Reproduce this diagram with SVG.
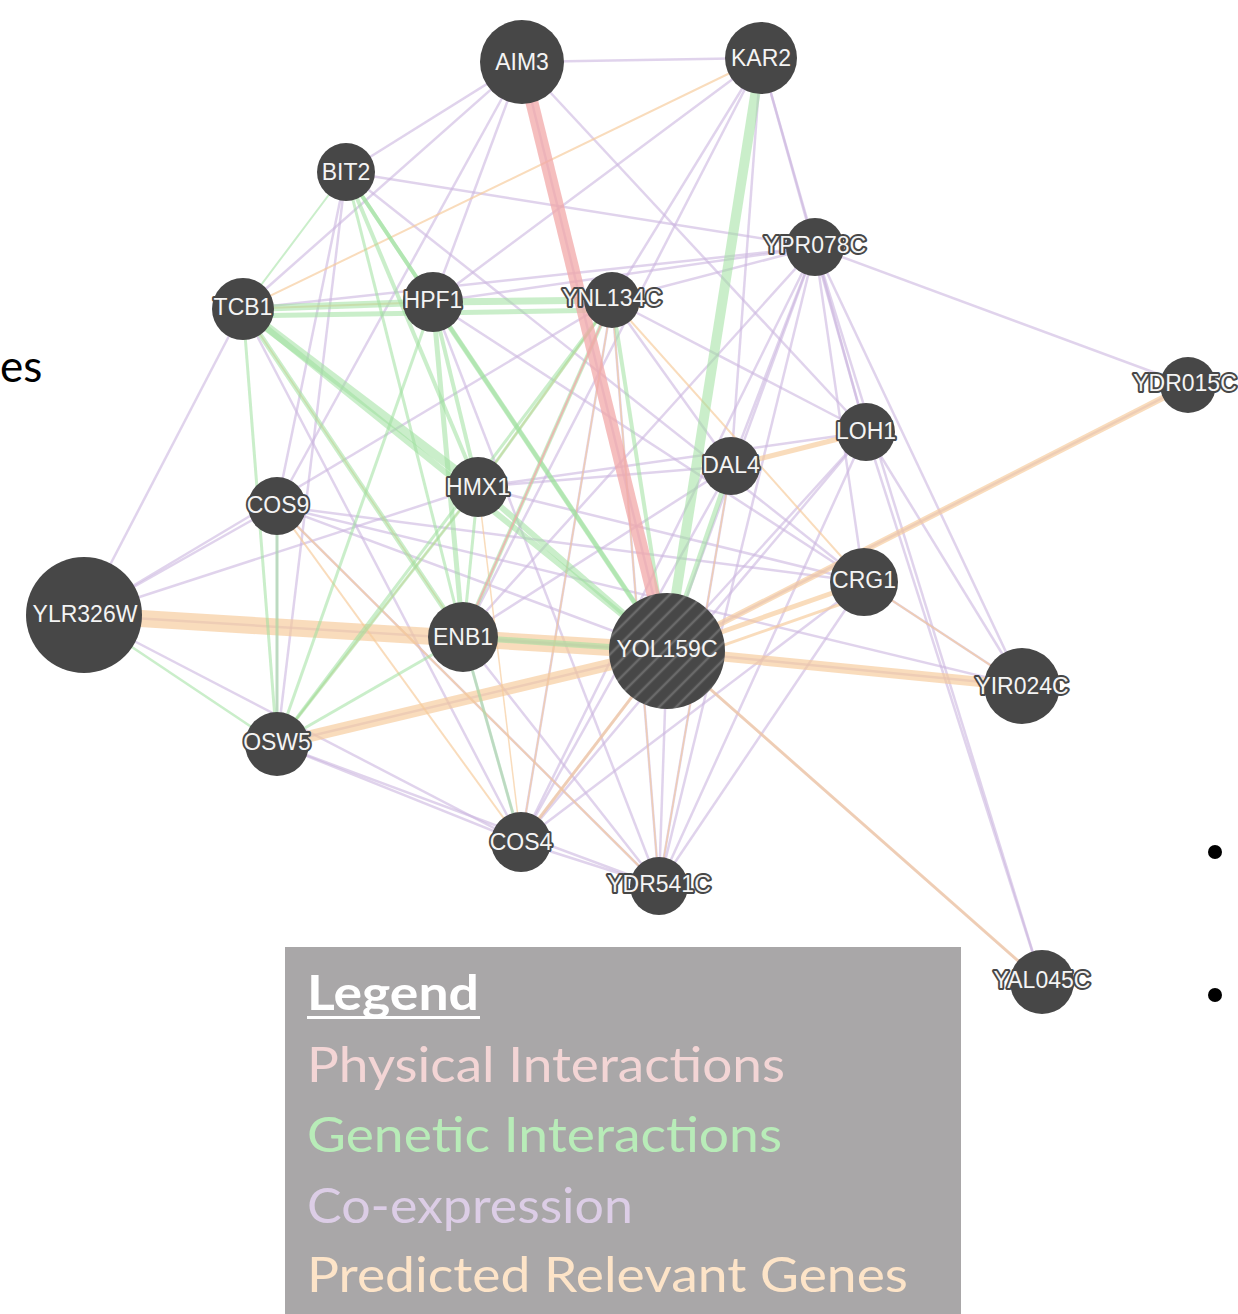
<svg xmlns="http://www.w3.org/2000/svg" width="1238" height="1314" viewBox="0 0 1238 1314">
<style>
.p{stroke:#f2a8a8;stroke-opacity:.75;stroke-linecap:butt}
.g{stroke:#9ee09e;stroke-opacity:.55}
.c{stroke:#cbb6df;stroke-opacity:.6;stroke-width:2.5}
.o{stroke:#f6c998;stroke-opacity:.65}
.node circle{fill:#474747}
.node text{font-family:"Liberation Sans",Arial,sans-serif;font-size:23px;fill:#f4f4f4;stroke:#474747;stroke-width:4;stroke-linejoin:round;paint-order:stroke;text-anchor:middle;dominant-baseline:central}
.lg{font-family:Lato,"Open Sans",sans-serif;font-size:48px}
</style>
<defs>
<pattern id="hatch" width="12" height="12" patternUnits="userSpaceOnUse" patternTransform="rotate(-45)">
<rect width="12" height="12" fill="#474747"/>
<line x1="0" y1="6" x2="12" y2="6" stroke="#6a6a6a" stroke-width="2.5"/>
</pattern>
</defs>
<rect width="1238" height="1314" fill="#ffffff"/>
<text x="0" y="382" font-family="Lato,'Open Sans',sans-serif" font-size="44" fill="#000">es</text>
<circle cx="1215" cy="852" r="7" fill="#000"/>
<circle cx="1215" cy="995" r="7" fill="#000"/>
<g id="connectors">
<!-- co-expression -->
<line class="c" x1="522" y1="62" x2="761" y2="58"/>
<line class="c" x1="522" y1="62" x2="346" y2="172"/>
<line class="c" x1="522" y1="62" x2="243" y2="309"/>
<line class="c" x1="522" y1="62" x2="433" y2="302"/>
<line class="c" x1="522" y1="62" x2="277" y2="506"/>
<line class="c" x1="522" y1="62" x2="866" y2="432"/>
<line class="c" x1="522" y1="62" x2="667" y2="651"/>
<line class="c" x1="761" y1="58" x2="815" y2="247"/>
<line class="c" x1="761" y1="58" x2="433" y2="302"/>
<line class="c" x1="761" y1="58" x2="731" y2="466"/>
<line class="c" x1="761" y1="58" x2="866" y2="432"/>
<line class="c" x1="761" y1="58" x2="463" y2="637"/>
<line class="c" x1="761" y1="58" x2="612" y2="300"/>
<line class="c" x1="815" y1="247" x2="1188" y2="385"/>
<line class="c" x1="815" y1="247" x2="612" y2="300"/>
<line class="c" x1="815" y1="247" x2="433" y2="302"/>
<line class="c" x1="815" y1="247" x2="243" y2="309"/>
<line class="c" x1="815" y1="247" x2="866" y2="432"/>
<line class="c" x1="815" y1="247" x2="864" y2="582"/>
<line class="c" x1="815" y1="247" x2="667" y2="651"/>
<line class="c" x1="815" y1="247" x2="521" y2="842"/>
<line class="c" x1="815" y1="247" x2="659" y2="886"/>
<line class="c" x1="815" y1="247" x2="731" y2="466"/>
<line class="c" x1="815" y1="247" x2="463" y2="637"/>
<line class="c" x1="815" y1="247" x2="1022" y2="686"/>
<line class="c" x1="815" y1="247" x2="1042" y2="982"/>
<line class="c" x1="866" y1="432" x2="667" y2="651"/>
<line class="c" x1="866" y1="432" x2="521" y2="842"/>
<line class="c" x1="866" y1="432" x2="659" y2="886"/>
<line class="c" x1="866" y1="432" x2="1042" y2="982"/>
<line class="c" x1="866" y1="432" x2="1022" y2="686"/>
<line class="c" x1="866" y1="432" x2="478" y2="487"/>
<line class="c" x1="866" y1="432" x2="612" y2="300"/>
<line class="c" x1="346" y1="172" x2="864" y2="582"/>
<line class="c" x1="346" y1="172" x2="277" y2="506"/>
<line class="c" x1="346" y1="172" x2="277" y2="744"/>
<line class="c" x1="346" y1="172" x2="815" y2="247"/>
<line class="c" x1="243" y1="309" x2="84" y2="615"/>
<line class="c" x1="243" y1="309" x2="521" y2="842"/>
<line class="c" x1="433" y1="302" x2="864" y2="582"/>
<line class="c" x1="433" y1="302" x2="659" y2="886"/>
<line class="c" x1="612" y1="300" x2="521" y2="842"/>
<line class="c" x1="612" y1="300" x2="659" y2="886"/>
<line class="c" x1="612" y1="300" x2="731" y2="466"/>
<line class="c" x1="612" y1="300" x2="84" y2="615"/>
<line class="c" x1="277" y1="506" x2="667" y2="651"/>
<line class="c" x1="277" y1="506" x2="864" y2="582"/>
<line class="c" x1="277" y1="506" x2="659" y2="886"/>
<line class="c" x1="277" y1="506" x2="277" y2="744"/>
<line class="c" x1="84" y1="615" x2="521" y2="842"/>
<line class="c" x1="84" y1="615" x2="478" y2="487"/>
<line class="c" x1="84" y1="615" x2="277" y2="506"/>
<line class="c" x1="84" y1="615" x2="667" y2="651"/>
<line class="c" x1="277" y1="744" x2="659" y2="886"/>
<line class="c" x1="277" y1="744" x2="521" y2="842"/>
<line class="c" x1="277" y1="744" x2="667" y2="651"/>
<line class="c" x1="463" y1="637" x2="667" y2="651"/>
<line class="c" x1="463" y1="637" x2="521" y2="842"/>
<line class="c" x1="463" y1="637" x2="659" y2="886"/>
<line class="c" x1="521" y1="842" x2="667" y2="651"/>
<line class="c" x1="521" y1="842" x2="864" y2="582"/>
<line class="c" x1="521" y1="842" x2="731" y2="466"/>
<line class="c" x1="521" y1="842" x2="659" y2="886"/>
<line class="c" x1="659" y1="886" x2="667" y2="651"/>
<line class="c" x1="659" y1="886" x2="864" y2="582"/>
<line class="c" x1="659" y1="886" x2="731" y2="466"/>
<line class="c" x1="667" y1="651" x2="1042" y2="982"/>
<line class="c" x1="667" y1="651" x2="1022" y2="686"/>
<line class="c" x1="864" y1="582" x2="1022" y2="686"/>
<line class="c" x1="864" y1="582" x2="478" y2="487"/>
<line class="c" x1="731" y1="466" x2="478" y2="487"/>
<line class="c" x1="731" y1="466" x2="463" y2="637"/>
<line class="c" x1="1188" y1="385" x2="667" y2="651"/>
<line class="c" x1="277" y1="506" x2="1022" y2="686"/>
<!-- predicted -->
<line class="o" x1="84" y1="615" x2="667" y2="651" stroke-width="17"/>
<line class="o" x1="277" y1="744" x2="667" y2="651" stroke-width="12"/>
<line class="o" x1="667" y1="651" x2="1022" y2="686" stroke-width="10"/>
<line class="o" x1="667" y1="651" x2="864" y2="582" stroke-width="5"/>
<line class="o" x1="731" y1="466" x2="866" y2="432" stroke-width="5"/>
<line class="o" x1="667" y1="651" x2="1188" y2="385" stroke-width="6"/>
<line class="o" x1="864" y1="582" x2="1022" y2="686" stroke-width="2"/>
<line class="o" x1="667" y1="651" x2="1042" y2="982" stroke-width="3"/>
<line class="o" x1="761" y1="58" x2="243" y2="309" stroke-width="2"/>
<line class="o" x1="243" y1="309" x2="433" y2="302" stroke-width="2"/>
<line class="o" x1="243" y1="309" x2="463" y2="637" stroke-width="1.5"/>
<line class="o" x1="277" y1="506" x2="659" y2="886" stroke-width="2"/>
<line class="o" x1="277" y1="506" x2="521" y2="842" stroke-width="2"/>
<line class="o" x1="478" y1="487" x2="521" y2="842" stroke-width="1.5"/>
<line class="o" x1="612" y1="300" x2="864" y2="582" stroke-width="2"/>
<line class="o" x1="612" y1="300" x2="659" y2="886" stroke-width="1.5"/>
<line class="o" x1="612" y1="300" x2="521" y2="842" stroke-width="1.5"/>
<line class="o" x1="612" y1="300" x2="478" y2="487" stroke-width="2"/>
<line class="o" x1="277" y1="744" x2="478" y2="487" stroke-width="1.5"/>
<line class="o" x1="667" y1="651" x2="521" y2="842" stroke-width="3"/>
<line class="o" x1="731" y1="466" x2="659" y2="886" stroke-width="1.5"/>
<line class="o" x1="667" y1="665" x2="864" y2="596" stroke-width="3"/>
<!-- genetic -->
<line class="g" x1="761" y1="58" x2="667" y2="651" stroke-width="10"/>
<line class="g" x1="243" y1="309" x2="433" y2="302" stroke-width="7"/>
<line class="g" x1="433" y1="302" x2="612" y2="300" stroke-width="7"/>
<line class="g" x1="243" y1="316" x2="612" y2="310" stroke-width="5"/>
<line class="g" x1="243" y1="309" x2="478" y2="487" stroke-width="9"/>
<line class="g" x1="243" y1="309" x2="667" y2="651" stroke-width="6"/>
<line class="g" x1="243" y1="309" x2="463" y2="637" stroke-width="5"/>
<line class="g" x1="243" y1="309" x2="277" y2="744" stroke-width="3"/>
<line class="g" x1="346" y1="172" x2="433" y2="302" stroke-width="4"/>
<line class="g" x1="346" y1="172" x2="478" y2="487" stroke-width="4"/>
<line class="g" x1="346" y1="172" x2="667" y2="651" stroke-width="4"/>
<line class="g" x1="346" y1="172" x2="463" y2="637" stroke-width="3"/>
<line class="g" x1="346" y1="172" x2="243" y2="309" stroke-width="2"/>
<line class="g" x1="433" y1="302" x2="463" y2="637" stroke-width="5"/>
<line class="g" x1="433" y1="302" x2="667" y2="651" stroke-width="5"/>
<line class="g" x1="433" y1="302" x2="277" y2="744" stroke-width="3"/>
<line class="g" x1="433" y1="302" x2="478" y2="487" stroke-width="4"/>
<line class="g" x1="612" y1="300" x2="478" y2="487" stroke-width="3"/>
<line class="g" x1="612" y1="300" x2="277" y2="744" stroke-width="3"/>
<line class="g" x1="612" y1="300" x2="667" y2="651" stroke-width="4"/>
<line class="g" x1="612" y1="300" x2="463" y2="637" stroke-width="4"/>
<line class="g" x1="478" y1="487" x2="667" y2="651" stroke-width="6"/>
<line class="g" x1="478" y1="487" x2="463" y2="637" stroke-width="3"/>
<line class="g" x1="463" y1="637" x2="667" y2="651" stroke-width="6"/>
<line class="g" x1="277" y1="744" x2="463" y2="637" stroke-width="3"/>
<line class="g" x1="277" y1="744" x2="277" y2="506" stroke-width="3"/>
<line class="g" x1="84" y1="615" x2="277" y2="744" stroke-width="2.5"/>
<line class="g" x1="277" y1="744" x2="478" y2="487" stroke-width="3"/>
<line class="g" x1="731" y1="466" x2="667" y2="651" stroke-width="5"/>
<line class="g" x1="521" y1="842" x2="463" y2="637" stroke-width="3"/>
<!-- physical -->
<line class="p" x1="522" y1="62" x2="667" y2="651" stroke-width="13"/>
<line class="p" x1="612" y1="300" x2="463" y2="637" stroke-width="2"/>
</g>
<g id="node-AIM3" class="node"><circle cx="522" cy="62" r="42"/><text x="522" y="62">AIM3</text></g>
<g id="node-KAR2" class="node"><circle cx="761" cy="58" r="36"/><text x="761" y="58">KAR2</text></g>
<g id="node-BIT2" class="node"><circle cx="346" cy="172" r="29"/><text x="346" y="172">BIT2</text></g>
<g id="node-YPR078C" class="node"><circle cx="815" cy="247" r="29"/><text x="815" y="245">YPR078C</text></g>
<g id="node-TCB1" class="node"><circle cx="243" cy="309" r="31"/><text x="243" y="307">TCB1</text></g>
<g id="node-HPF1" class="node"><circle cx="433" cy="302" r="30"/><text x="433" y="300">HPF1</text></g>
<g id="node-YNL134C" class="node"><circle cx="612" cy="300" r="28"/><text x="612" y="298">YNL134C</text></g>
<g id="node-YDR015C" class="node"><circle cx="1188" cy="385" r="28"/><text x="1185" y="383">YDR015C</text></g>
<g id="node-LOH1" class="node"><circle cx="866" cy="432" r="29"/><text x="866" y="431">LOH1</text></g>
<g id="node-DAL4" class="node"><circle cx="731" cy="466" r="29"/><text x="731" y="465">DAL4</text></g>
<g id="node-HMX1" class="node"><circle cx="478" cy="487" r="30"/><text x="478" y="487">HMX1</text></g>
<g id="node-COS9" class="node"><circle cx="277" cy="506" r="29"/><text x="278" y="505">COS9</text></g>
<g id="node-CRG1" class="node"><circle cx="864" cy="582" r="34"/><text x="864" y="580">CRG1</text></g>
<g id="node-YLR326W" class="node"><circle cx="84" cy="615" r="58"/><text x="85" y="614">YLR326W</text></g>
<g id="node-ENB1" class="node"><circle cx="463" cy="637" r="35"/><text x="463" y="637">ENB1</text></g>
<g id="node-YOL159C" class="node"><circle cx="667" cy="651" r="58" style="fill:url(#hatch)"/><text x="667" y="649" style="stroke:none">YOL159C</text></g>
<g id="node-YIR024C" class="node"><circle cx="1022" cy="686" r="38"/><text x="1022" y="686">YIR024C</text></g>
<g id="node-OSW5" class="node"><circle cx="277" cy="744" r="32"/><text x="277" y="742">OSW5</text></g>
<g id="node-COS4" class="node"><circle cx="521" cy="842" r="30"/><text x="521" y="842">COS4</text></g>
<g id="node-YDR541C" class="node"><circle cx="659" cy="886" r="29"/><text x="659" y="884">YDR541C</text></g>
<g id="node-YAL045C" class="node"><circle cx="1042" cy="982" r="32"/><text x="1042" y="980">YAL045C</text></g>
<g id="legend">
<rect x="285" y="947" width="676" height="367" fill="#a9a7a8"/>
<text class="lg" x="307" y="1010" fill="#ffffff" font-weight="bold" textLength="172" lengthAdjust="spacingAndGlyphs">Legend</text>
<rect x="307" y="1016" width="173" height="3" fill="#ffffff"/>
<text class="lg" x="307" y="1082" fill="#f3d5d5" textLength="478" lengthAdjust="spacingAndGlyphs">Physical Interactions</text>
<text class="lg" x="307" y="1152" fill="#b8ecb8" textLength="475" lengthAdjust="spacingAndGlyphs">Genetic Interactions</text>
<text class="lg" x="307" y="1223" fill="#dccde6" textLength="326" lengthAdjust="spacingAndGlyphs">Co-expression</text>
<text class="lg" x="307" y="1292" fill="#fde4c8" textLength="601" lengthAdjust="spacingAndGlyphs">Predicted Relevant Genes</text>
</g>
</svg>
